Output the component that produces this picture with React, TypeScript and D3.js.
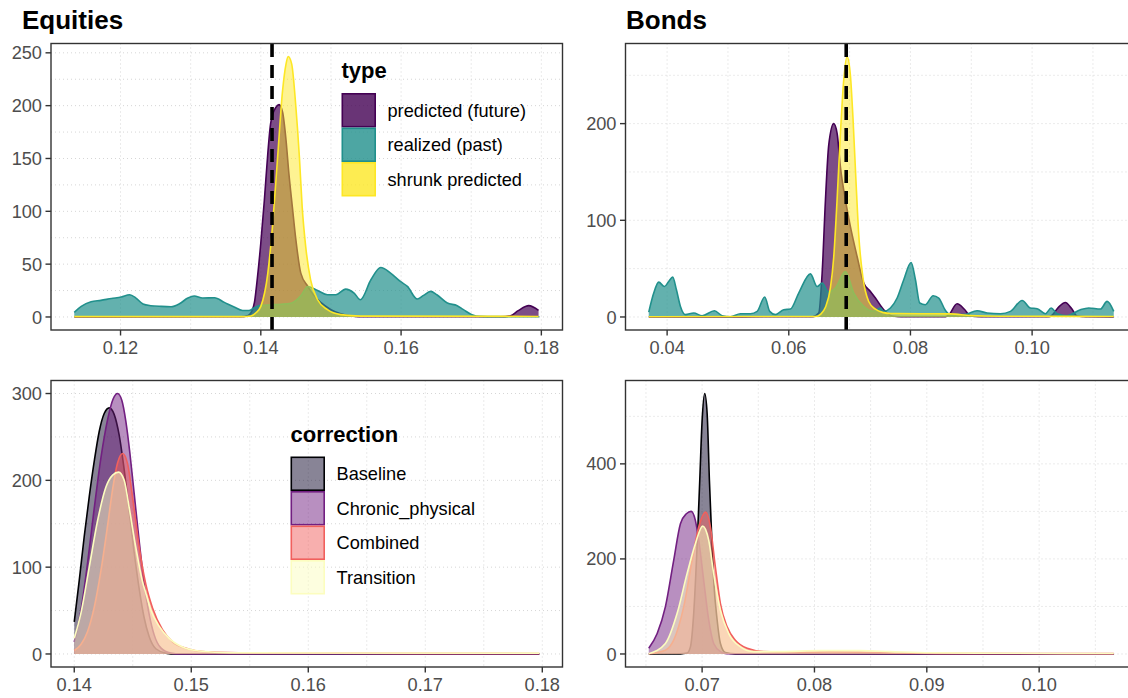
import * as d3 from 'd3';
import React from 'react';

type Pt = [number, number];

// Equities, by type (x = expected return, y = density)
const eqPredicted: Pt[] = [
  [0.1134, 0], [0.1372, 0.2], [0.1382, 1.5], [0.1386, 4], [0.1391, 14], [0.1395, 36], [0.14, 70],
  [0.1405, 110], [0.141, 155], [0.1414, 183], [0.1421, 198], [0.1426, 201], [0.1431, 194],
  [0.1436, 167], [0.144, 136], [0.1445, 104], [0.145, 73], [0.1457, 41.5], [0.1467, 29],
  [0.1475, 21], [0.1485, 14], [0.15, 7], [0.1514, 3], [0.1528, 1], [0.1549, 0.2], [0.1742, 0.2],
  [0.1756, 1.2], [0.1767, 6], [0.1782, 10.7], [0.1796, 6.2],
];
const eqRealized: Pt[] = [
  [0.1134, 4.3], [0.1144, 10], [0.1158, 14.4], [0.1172, 15.7], [0.1187, 17.5], [0.1201, 18.9],
  [0.1213, 21], [0.1222, 17.9], [0.1232, 12.3], [0.1243, 10.7], [0.1258, 10], [0.1272, 9.7],
  [0.1284, 12.5], [0.1296, 17.9], [0.1305, 19.8], [0.1317, 17.9], [0.1334, 18.2], [0.1348, 13.8],
  [0.1362, 9.4], [0.1374, 6.2], [0.1383, 6.2], [0.139, 8.5], [0.14, 11], [0.1414, 11.5],
  [0.1429, 12], [0.1443, 13], [0.1457, 20], [0.1467, 28.9], [0.1481, 25.1], [0.1495, 21],
  [0.1507, 21], [0.1521, 26.4], [0.1533, 22.6], [0.1542, 16.3], [0.1557, 35.2], [0.1571, 46.8],
  [0.1585, 41.5], [0.1599, 33.6], [0.1609, 28.9], [0.1623, 17], [0.1632, 20.4], [0.1642, 24.2],
  [0.1651, 21], [0.1666, 13.2], [0.168, 10.7], [0.1689, 6.9], [0.1701, 2.2], [0.1713, 0.6],
  [0.174, 0.3], [0.177, 0.2], [0.1797, 0.2],
];
const eqShrunk: Pt[] = [
  [0.1134, 0.3], [0.1372, 0.3], [0.1386, 1], [0.1393, 4], [0.14, 10], [0.141, 41.5],
  [0.1417, 88.7], [0.1424, 151.5], [0.1431, 214], [0.1436, 239.6], [0.1439, 246.5],
  [0.1444, 239.6], [0.145, 198.7], [0.1455, 151.5], [0.1459, 104], [0.1464, 66.6],
  [0.1471, 35.2], [0.1481, 16.3], [0.1495, 6.9], [0.1514, 2.2], [0.1542, 0.8], [0.1796, 0.5],
];

// Bonds, by type
const bdPredicted: Pt[] = [
  [0.03698, 0], [0.06389, 0.3], [0.06492, 4.1], [0.06548, 45], [0.06602, 120], [0.06657, 178],
  [0.06739, 200], [0.06795, 189.7], [0.06849, 155], [0.06931, 121], [0.07013, 93.4],
  [0.07123, 62.5], [0.07232, 35], [0.07342, 26.4], [0.07424, 19.6], [0.07561, 7.5], [0.07704, 1],
  [0.07835, 0.2], [0.08575, 0.2], [0.08629, 2], [0.08767, 13.7], [0.08887, 8], [0.08986, 1],
  [0.0915, 0.2], [0.10268, 0.2], [0.10329, 2], [0.10432, 10], [0.10547, 15], [0.10646, 9],
  [0.1074, 1], [0.10876, 0.2], [0.11342, 0],
];
const bdRealized: Pt[] = [
  [0.03698, 5], [0.0378, 24.7], [0.03862, 36], [0.03956, 31.5], [0.04026, 36.7], [0.04092, 41.2],
  [0.04153, 28.1], [0.04219, 10.9], [0.04301, 2.4], [0.04437, 4.1], [0.04575, 1.3], [0.04778, 6.5],
  [0.04904, 1.3], [0.05041, 0.3], [0.05205, 3.4], [0.05369, 3.4], [0.0548, 5.8], [0.05604, 20.6],
  [0.05687, 5.8], [0.0578, 2.4], [0.05917, 7.5], [0.06027, 8.2], [0.06163, 24.7], [0.06356, 44.6],
  [0.06466, 31.5], [0.06548, 35], [0.06652, 26], [0.06767, 30], [0.06931, 47], [0.07068, 24.7],
  [0.07232, 10.9], [0.07391, 6], [0.07507, 9.3], [0.07561, 5.8], [0.07671, 9.3], [0.07781, 19.6],
  [0.0789, 38.5], [0.08011, 56.3], [0.08082, 38.5], [0.08153, 14.4], [0.08246, 12.7],
  [0.08373, 22], [0.08465, 19.6], [0.08575, 6.8], [0.08657, 2.4], [0.08876, 2.4], [0.09096, 6.5],
  [0.09261, 4.1], [0.09479, 3.4], [0.09644, 5.8], [0.09836, 17.1], [0.09972, 9.3], [0.10083, 8.6],
  [0.10219, 3.4], [0.10313, 9.3], [0.10411, 3.4], [0.10576, 1.3], [0.10794, 7.5], [0.10931, 9.3],
  [0.11123, 8.2], [0.11233, 16.1], [0.11342, 5.8],
];
const bdShrunk: Pt[] = [
  [0.03698, 0.3], [0.06438, 0.5], [0.06525, 3], [0.06602, 10], [0.06684, 30], [0.06739, 62],
  [0.06793, 120], [0.06849, 190], [0.06903, 245], [0.06958, 269.4], [0.07013, 250],
  [0.07056, 205], [0.07105, 140], [0.0715, 85], [0.07216, 42], [0.07314, 16], [0.07424, 8],
  [0.0756, 4.5], [0.07671, 3.6], [0.08164, 3.4], [0.08657, 3.2], [0.08986, 1.5], [0.09479, 0.8],
  [0.11342, 0.5],
];

// Equities, by correction
const eqBaseline: Pt[] = [
  [0.14, 37], [0.14043, 85], [0.14085, 135], [0.14128, 181], [0.14171, 222], [0.14213, 256],
  [0.14256, 277], [0.14299, 283.5], [0.14341, 276], [0.14384, 252], [0.14427, 212],
  [0.14469, 165], [0.14512, 117], [0.14555, 75], [0.14597, 42], [0.1464, 20], [0.14697, 6],
  [0.14782, 1], [0.14868, 0], [0.17974, 0],
];
const eqChronic: Pt[] = [
  [0.14, 14], [0.14057, 50], [0.14114, 105], [0.14171, 168], [0.14228, 226], [0.14285, 270],
  [0.14333, 294], [0.1437, 300], [0.14407, 292], [0.14441, 268], [0.14475, 232], [0.14512, 185],
  [0.14555, 130], [0.14597, 82], [0.1464, 46], [0.14683, 22], [0.1474, 7], [0.14825, 1],
  [0.1491, 0], [0.17974, 0],
];
const eqCombined: Pt[] = [
  [0.14, 4], [0.14057, 11], [0.14114, 26], [0.14171, 54], [0.14228, 96], [0.14285, 148],
  [0.14328, 190], [0.1437, 220], [0.14413, 231], [0.14456, 219], [0.14498, 181], [0.14555, 123],
  [0.14612, 80], [0.14669, 53], [0.14754, 28], [0.1484, 14], [0.14981, 5.5], [0.15124, 2.5],
  [0.15508, 1.2], [0.17974, 0.6],
];
const eqTransition: Pt[] = [
  [0.14, 18], [0.14057, 47], [0.14128, 100], [0.142, 154], [0.1427, 192], [0.14328, 206],
  [0.14379, 209.5], [0.14427, 200], [0.14469, 169], [0.14526, 123], [0.14584, 83],
  [0.14612, 70], [0.14654, 51], [0.14725, 32], [0.14811, 18], [0.14925, 8], [0.15067, 3.5],
  [0.15337, 1.5], [0.17974, 1],
];

// Bonds, by correction
const bdBaseline: Pt[] = [
  [0.06525, 0], [0.06807, 0.3], [0.06866, 2], [0.06896, 15], [0.06925, 85], [0.06955, 225],
  [0.06979, 365], [0.07, 491], [0.07023, 548], [0.07045, 505], [0.07065, 365], [0.07083, 260],
  [0.07103, 155], [0.07134, 71], [0.07163, 22], [0.07207, 3], [0.07296, 0.3], [0.10664, 0],
];
const bdChronic: Pt[] = [
  [0.06525, 12], [0.066, 43], [0.06673, 99], [0.06747, 197], [0.06807, 274], [0.0686, 295],
  [0.06902, 300], [0.0694, 281], [0.0697, 239], [0.07014, 155], [0.07059, 71], [0.07103, 22],
  [0.07163, 5], [0.07223, 0.5], [0.10664, 0],
];
const bdCombined: Pt[] = [
  [0.06525, 0.5], [0.06673, 8], [0.06747, 29], [0.06836, 99], [0.06911, 197], [0.0697, 267],
  [0.07032, 298.5], [0.07074, 267], [0.07118, 183], [0.07163, 106], [0.07223, 57], [0.07296, 29],
  [0.07401, 12], [0.07548, 5], [0.07786, 3.5], [0.08142, 4.5], [0.08498, 3.5], [0.08765, 2],
  [0.0921, 1.2], [0.10664, 0.8],
];
const bdTransition: Pt[] = [
  [0.06525, 0.5], [0.06673, 22], [0.06777, 85], [0.06866, 169], [0.0694, 232], [0.07005, 269],
  [0.07059, 239], [0.07103, 169], [0.07163, 92], [0.07237, 43], [0.07341, 15], [0.07459, 5],
  [0.07697, 5], [0.08053, 7], [0.08409, 7], [0.08675, 5], [0.09032, 2.5], [0.09655, 1.5],
  [0.10664, 1],
];

const typeLevels = ['predicted (future)', 'realized (past)', 'shrunk predicted'];
const typeColors = ['#440154', '#21908C', '#FDE725'];
const typeAlpha = [0.7, 0.7, 0.5];
const correctionLevels = ['Baseline', 'Chronic_physical', 'Combined', 'Transition'];
const correctionColors = ['#120A2E', '#721F81', '#F1605D', '#FCFDBF'];

const eqTypeXTicks = [0.12, 0.14, 0.16, 0.18];
const eqTypeYTicks = [0, 50, 100, 150, 200, 250];
const bdTypeXTicks = [0.04, 0.06, 0.08, 0.1];
const bdTypeYTicks = [0, 100, 200];
const eqCorrXTicks = [0.14, 0.15, 0.16, 0.17, 0.18];
const eqCorrYTicks = [0, 100, 200, 300];
const bdCorrXTicks = [0.07, 0.08, 0.09, 0.1];
const bdCorrYTicks = [0, 200, 400];

const eqMeanLine = 0.1416;
const bdMeanLine = 0.06944;

const FONT = '"Liberation Sans", Arial, Helvetica, sans-serif';
const fmt = d3.format('.2f');
const TXT = 18.2;

function minors(ticks: number[], lo: number, hi: number) {
  const step = ticks[1] - ticks[0];
  const out: number[] = [];
  for (let v = ticks[0] - step / 2; v <= hi + 1e-12; v += step) {
    if (v >= lo) out.push(v);
  }
  return out;
}

function Panel({ left, top, width, height, series, colors, lineColors, alphas, xTicks, yTicks, vline }: any) {
  const all: Pt[] = series.flat();
  const [x0, x1] = d3.extent(all, (d) => d[0]) as [number, number];
  const px = (x1 - x0) * 0.05;
  const x = d3.scaleLinear().domain([x0 - px, x1 + px]).range([left, left + width]);
  const yMax = d3.max(all, (d) => d[1]) as number;
  const y = d3.scaleLinear().domain([-yMax * 0.05, yMax * 1.05]).range([top + height, top]);
  const area = d3.area<Pt>().x((d) => x(d[0])).y0(y(0)).y1((d) => y(d[1])).curve(d3.curveMonotoneX);
  const line = d3.line<Pt>().x((d) => x(d[0])).y((d) => y(d[1])).curve(d3.curveMonotoneX);
  const [dx0, dx1] = x.domain();
  const [dy0, dy1] = y.domain();
  const gridX = [...xTicks, ...minors(xTicks, dx0, dx1)].filter((v) => v >= dx0 && v <= dx1);
  const gridY = [...yTicks, ...minors(yTicks, dy0, dy1)].filter((v) => v >= dy0 && v <= dy1);
  const bottom = top + height;
  return (
    <g>
      {gridX.map((v, i) => (
        <line key={'gx' + i} x1={x(v)} x2={x(v)} y1={top} y2={bottom}
          stroke="#d6d6d6" strokeWidth={1} strokeDasharray="1 3" />
      ))}
      {gridY.map((v, i) => (
        <line key={'gy' + i} x1={left} x2={left + width} y1={y(v)} y2={y(v)}
          stroke="#d6d6d6" strokeWidth={1} strokeDasharray="1 3" />
      ))}
      {series.map((s: Pt[], i: number) => (
        <g key={'s' + i}>
          <path d={area(s) as string} fill={colors[i]} fillOpacity={alphas[i]} stroke="none" />
          <path d={line(s) as string} fill="none" stroke={(lineColors || colors)[i]} strokeWidth={1.6} />
        </g>
      ))}
      {vline !== undefined && (
        <line x1={x(vline)} x2={x(vline)} y1={bottom} y2={top} stroke="#000" strokeWidth={3.6}
          strokeDasharray="13 8" />
      )}
      <rect x={left} y={top} width={width} height={height} fill="none" stroke="#333" strokeWidth={1.4} />
      {xTicks.map((v: number, i: number) => (
        <g key={'xt' + i}>
          <line x1={x(v)} x2={x(v)} y1={bottom} y2={bottom + 5.5} stroke="#333" strokeWidth={1.4} />
          <text x={x(v)} y={bottom + 24} textAnchor="middle" fontSize={TXT} fill="#4D4D4D"
            fontFamily={FONT}>{fmt(v)}</text>
        </g>
      ))}
      {yTicks.map((v: number, i: number) => (
        <g key={'yt' + i}>
          <line x1={left - 5.5} x2={left} y1={y(v)} y2={y(v)} stroke="#333" strokeWidth={1.4} />
          <text x={left - 9} y={y(v)} dy="0.36em" textAnchor="end" fontSize={TXT} fill="#4D4D4D"
            fontFamily={FONT}>{v}</text>
        </g>
      ))}
    </g>
  );
}

function Legend({ x, y, title, levels, colors, lineColors, alphas }: any) {
  const key = 34.5;
  return (
    <g fontFamily={FONT}>
      <text x={x} y={y} fontSize={22} fontWeight="bold" fill="#000">{title}</text>
      {levels.map((lv: string, i: number) => (
        <g key={lv}>
          <rect x={x + 0.8} y={y + 15.8 + i * key} width={key - 1.6} height={key - 1.6}
            fill={colors[i]} fillOpacity={alphas[i]} stroke={(lineColors || colors)[i]} strokeWidth={1.6} />
          <text x={x + 46} y={y + 15 + i * key + key / 2} dy="0.36em" fontSize={TXT} fill="#000">{lv}</text>
        </g>
      ))}
    </g>
  );
}

export default function App() {
  const corrAlpha = correctionLevels.map(() => 0.5);
  const corrLines = ['#000004', '#721F81', '#F1605D', '#FCFDBF'];
  return (
    <svg width={1128} height={698} style={{ position: 'absolute', left: 0, top: 0, background: '#fff' }}>
      <rect width={1128} height={698} fill="#fff" />
      <text x={22} y={29} fontFamily={FONT} fontSize={26} fontWeight="bold">Equities</text>
      <text x={626} y={29} fontFamily={FONT} fontSize={26} fontWeight="bold">Bonds</text>
      <Panel left={51} top={43.5} width={511.5} height={286.5}
        series={[eqPredicted, eqRealized, eqShrunk]} colors={typeColors} alphas={typeAlpha}
        xTicks={eqTypeXTicks} yTicks={eqTypeYTicks} vline={eqMeanLine} />
      <Panel left={625.5} top={43.5} width={511.5} height={286.5}
        series={[bdPredicted, bdRealized, bdShrunk]} colors={typeColors} alphas={typeAlpha}
        xTicks={bdTypeXTicks} yTicks={bdTypeYTicks} vline={bdMeanLine} />
      <Panel left={51} top={380.5} width={511.5} height={286.5}
        series={[eqBaseline, eqChronic, eqCombined, eqTransition]} colors={correctionColors}
        lineColors={corrLines} alphas={corrAlpha} xTicks={eqCorrXTicks} yTicks={eqCorrYTicks} />
      <Panel left={625.5} top={380.5} width={511.5} height={286.5}
        series={[bdBaseline, bdChronic, bdCombined, bdTransition]} colors={correctionColors}
        lineColors={corrLines} alphas={corrAlpha} xTicks={bdCorrXTicks} yTicks={bdCorrYTicks} />
      <Legend x={341.5} y={78} title="type" levels={typeLevels} colors={typeColors}
        alphas={[0.8, 0.8, 0.8]} />
      <Legend x={290.5} y={441.5} title="correction" levels={correctionLevels}
        colors={correctionColors} lineColors={corrLines} alphas={corrAlpha} />
    </svg>
  );
}
